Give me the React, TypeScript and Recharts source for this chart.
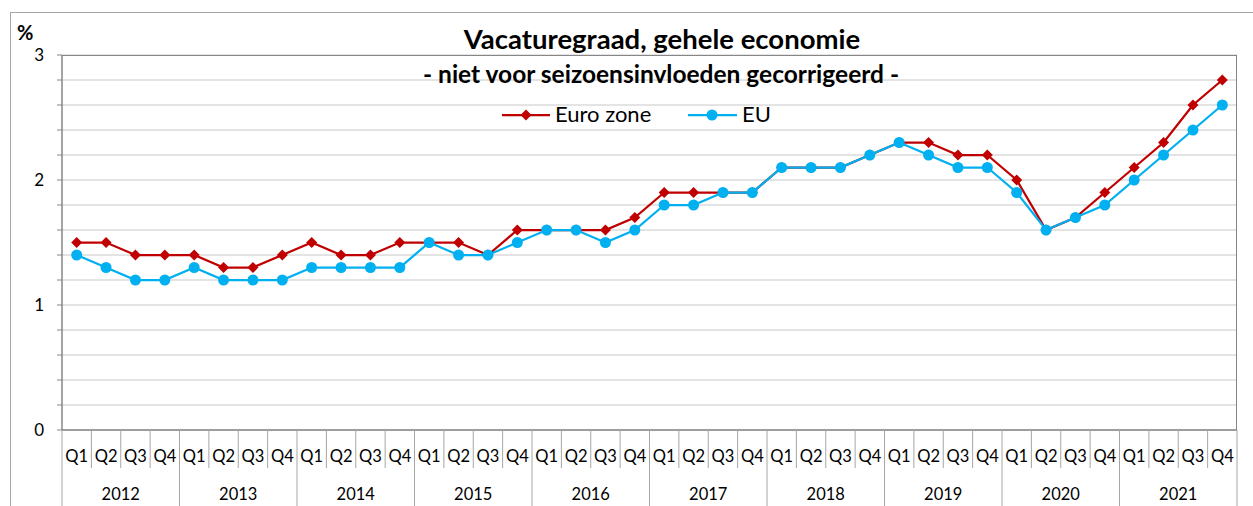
import React from 'react';
import { LineChart, Line, XAxis, YAxis, CartesianGrid } from 'recharts';

const years = ['2012', '2013', '2014', '2015', '2016', '2017', '2018', '2019', '2020', '2021'];
const quarters = ['Q1', 'Q2', 'Q3', 'Q4'];

const euroZone = [
  1.5, 1.5, 1.4, 1.4,
  1.4, 1.3, 1.3, 1.4,
  1.5, 1.4, 1.4, 1.5,
  1.5, 1.5, 1.4, 1.6,
  1.6, 1.6, 1.6, 1.7,
  1.9, 1.9, 1.9, 1.9,
  2.1, 2.1, 2.1, 2.2,
  2.3, 2.3, 2.2, 2.2,
  2.0, 1.6, 1.7, 1.9,
  2.1, 2.3, 2.6, 2.8,
];

const eu = [
  1.4, 1.3, 1.2, 1.2,
  1.3, 1.2, 1.2, 1.2,
  1.3, 1.3, 1.3, 1.3,
  1.5, 1.4, 1.4, 1.5,
  1.6, 1.6, 1.5, 1.6,
  1.8, 1.8, 1.9, 1.9,
  2.1, 2.1, 2.1, 2.2,
  2.3, 2.2, 2.1, 2.1,
  1.9, 1.6, 1.7, 1.8,
  2.0, 2.2, 2.4, 2.6,
];

const yTicks = [0, 0.2, 0.4, 0.6, 0.8, 1, 1.2, 1.4, 1.6, 1.8, 2, 2.2, 2.4, 2.6, 2.8, 3];

const data = years.flatMap((year, yi) =>
  quarters.map((q, qi) => ({
    period: `${year} ${q}`,
    euroZone: euroZone[yi * 4 + qi],
    eu: eu[yi * 4 + qi],
  }))
);

const W = 1253;
const H = 506;
const PLOT_LEFT = 62;
const PLOT_RIGHT = 1237;
const PLOT_TOP = 55;
const PLOT_BOTTOM = 430;
const STEP = (PLOT_RIGHT - PLOT_LEFT) / data.length;

const RED = '#C00000';
const BLUE = '#00B0F0';
const AXIS = '#868686';
const SEP = '#a6a6a6';
const GRID = '#c8c8c8';
const FONT = 'Lato, "Open Sans", sans-serif';

const QuarterTick = (props: any) => {
  const { x, payload } = props;
  const [year, q] = String(payload.value).split(' ');
  const left = x - STEP / 2;
  const isLast = payload.value === data[data.length - 1].period;
  return (
    <g>
      <line x1={left} x2={left} y1={PLOT_BOTTOM} y2={q === 'Q1' ? H : 468} stroke={SEP} strokeWidth={1} />
      {isLast && (
        <line x1={x + STEP / 2} x2={x + STEP / 2} y1={PLOT_BOTTOM} y2={H} stroke={SEP} strokeWidth={1} />
      )}
      <text x={x} y={456} textAnchor="middle" dominantBaseline="central" fontSize={16.5} fill="#000" fontFamily={FONT}>
        {q}
      </text>
      {q === 'Q2' && (
        <text x={x + STEP / 2} y={494} textAnchor="middle" dominantBaseline="central" fontSize={16.5} fill="#000" fontFamily={FONT}>
          {year}
        </text>
      )}
    </g>
  );
};

const diamond = (p: any) => {
  const { cx, cy, index } = p;
  const r = 5.5;
  return (
    <polygon
      key={`d-${index}`}
      points={`${cx},${cy - r} ${cx + r},${cy} ${cx},${cy + r} ${cx - r},${cy}`}
      fill={RED}
    />
  );
};

const App = () => {
  return (
    <div style={{ position: 'absolute', left: 0, top: 0, width: W, height: H, overflow: 'hidden', background: '#fff', fontFamily: FONT }}>
      <div style={{ position: 'absolute', left: 10, top: 12, width: W + 20, height: H + 20, border: '1px solid #a6a6a6' }} />
      <LineChart
        width={W}
        height={H}
        data={data}
        margin={{ top: PLOT_TOP, right: W - PLOT_RIGHT, bottom: 0, left: PLOT_LEFT - 30 }}
      >
        <CartesianGrid vertical={false} stroke={GRID} strokeWidth={1} />
        <XAxis
          dataKey="period"
          interval={0}
          height={H - PLOT_BOTTOM}
          padding={{ left: STEP / 2, right: STEP / 2 }}
          tick={<QuarterTick />}
          tickLine={false}
          axisLine={{ stroke: AXIS, strokeWidth: 1.5 }}
        />
        <YAxis
          domain={[0, 3]}
          ticks={yTicks}
          interval={0}
          width={30}
          tickSize={5}
          tickMargin={13}
          tickFormatter={(v: number) => (Number.isInteger(v) ? String(v) : '')}
          tick={{ fill: '#000', fontSize: 17, fontFamily: FONT }}
          tickLine={{ stroke: AXIS }}
          axisLine={{ stroke: AXIS, strokeWidth: 1.5 }}
        />
        <Line
          type="linear"
          dataKey="euroZone"
          name="Euro zone"
          stroke={RED}
          strokeWidth={2.25}
          dot={diamond}
          activeDot={false}
          isAnimationActive={false}
        />
        <Line
          type="linear"
          dataKey="eu"
          name="EU"
          stroke={BLUE}
          strokeWidth={2.25}
          dot={{ r: 5.5, fill: BLUE, stroke: BLUE, strokeWidth: 0 }}
          activeDot={false}
          isAnimationActive={false}
        />
      </LineChart>
      <div
        style={{
          position: 'absolute',
          left: PLOT_LEFT,
          top: PLOT_TOP,
          width: PLOT_RIGHT - PLOT_LEFT,
          height: PLOT_BOTTOM - PLOT_TOP,
          borderTop: `1.5px solid ${AXIS}`,
          borderRight: `1.5px solid ${AXIS}`,
          boxSizing: 'border-box',
          pointerEvents: 'none',
        }}
      />
      <svg width={W} height={H} style={{ position: 'absolute', left: 0, top: 0, pointerEvents: 'none' }} fontFamily={FONT}>
        <text x={17} y={40} fontSize={20} fontWeight={700} fill="#000">%</text>
        <text x={662} y={49} textAnchor="middle" fontSize={27.5} fontWeight={700} fill="#000">
          Vacaturegraad, gehele economie
        </text>
        <text x={661} y={83} textAnchor="middle" fontSize={24.5} fontWeight={700} fill="#000">
          - niet voor seizoensinvloeden gecorrigeerd -
        </text>
        <line x1={502} x2={550} y1={115} y2={115} stroke={RED} strokeWidth={2.25} />
        <polygon points="526,109.5 531.5,115 526,120.5 520.5,115" fill={RED} />
        <text x={555} y={122} fontSize={22} fill="#000">Euro zone</text>
        <line x1={688} x2={737} y1={115} y2={115} stroke={BLUE} strokeWidth={2.25} />
        <circle cx={712} cy={115} r={5.5} fill={BLUE} />
        <text x={742} y={122} fontSize={22} fill="#000">EU</text>
      </svg>
    </div>
  );
};

export default App;
